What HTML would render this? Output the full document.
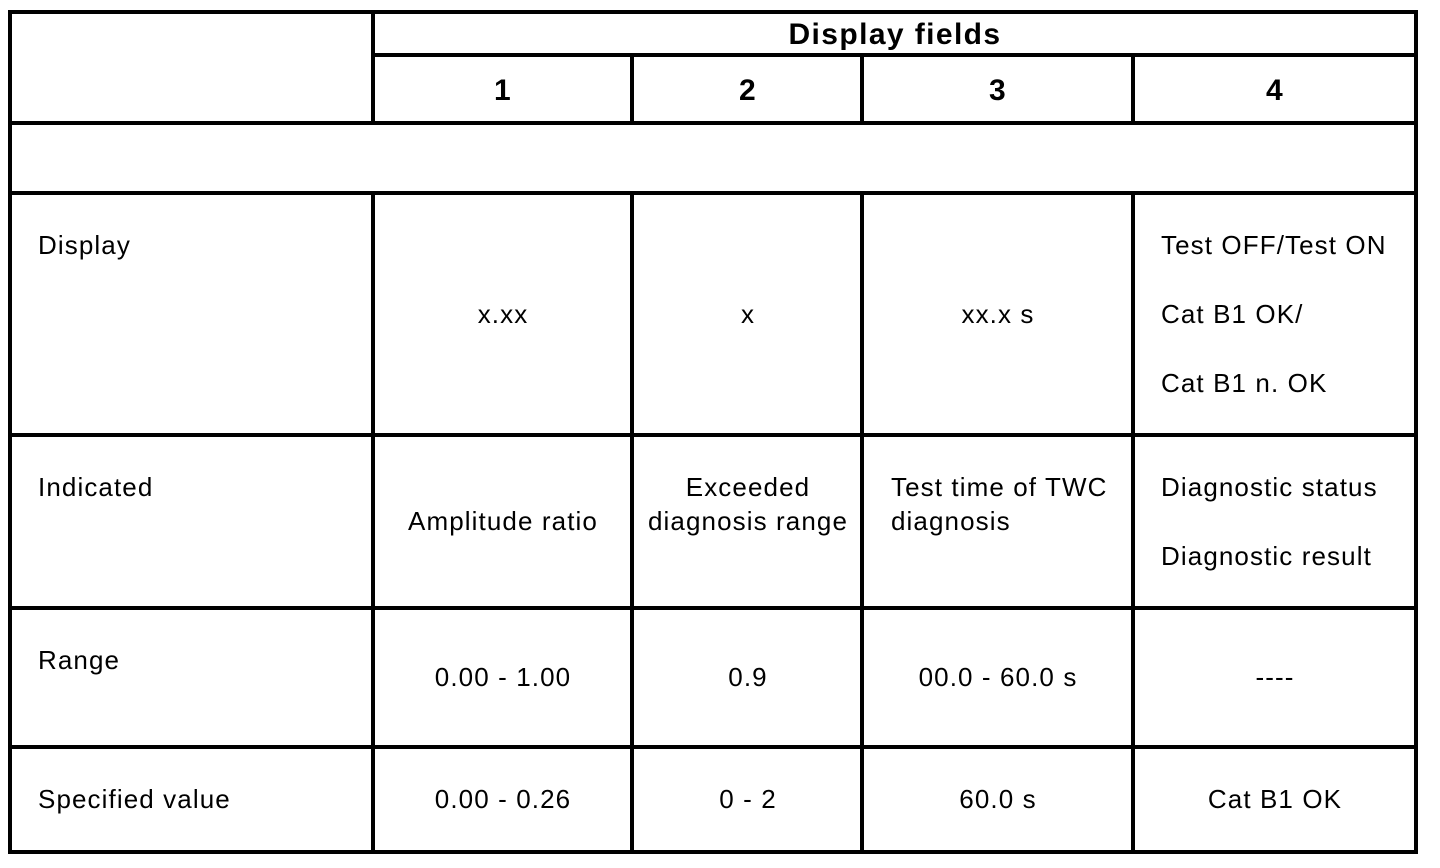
<!DOCTYPE html>
<html><head><style>body{margin:0;background:#fff}svg{display:block}</style></head><body>
<svg width="1440" height="868" xmlns="http://www.w3.org/2000/svg" font-family="Liberation Sans, Arial, sans-serif" font-size="26" letter-spacing="1.1" fill="#000">
<g stroke="#000" stroke-width="4" fill="none">
<rect x="10" y="12" width="1406" height="840"/>
<line x1="373" y1="12" x2="373" y2="123"/>
<line x1="373" y1="55" x2="1416" y2="55"/>
<line x1="632" y1="55" x2="632" y2="123"/>
<line x1="862" y1="55" x2="862" y2="123"/>
<line x1="1133" y1="55" x2="1133" y2="123"/>
<line x1="10" y1="123" x2="1416" y2="123"/>
<line x1="10" y1="193" x2="1416" y2="193"/>
<line x1="10" y1="435" x2="1416" y2="435"/>
<line x1="10" y1="608" x2="1416" y2="608"/>
<line x1="10" y1="747" x2="1416" y2="747"/>
<line x1="373" y1="193" x2="373" y2="852"/>
<line x1="632" y1="193" x2="632" y2="852"/>
<line x1="862" y1="193" x2="862" y2="852"/>
<line x1="1133" y1="193" x2="1133" y2="852"/>
</g>
<g font-weight="bold" font-size="30" letter-spacing="1.4" text-anchor="middle">
<text x="895" y="44">Display fields</text>
<text x="503" y="100">1</text>
<text x="748" y="100">2</text>
<text x="998" y="100">3</text>
<text x="1275" y="100">4</text>
</g>
<text x="38" y="254">Display</text>
<text x="38" y="496">Indicated</text>
<text x="38" y="669">Range</text>
<text x="38" y="808">Specified value</text>
<g text-anchor="middle">
<text x="503" y="323">x.xx</text>
<text x="748" y="323">x</text>
<text x="998" y="323">xx.x s</text>
<text x="503" y="530">Amplitude ratio</text>
<text x="748" y="496">Exceeded</text>
<text x="748" y="530">diagnosis range</text>
<text x="503" y="686">0.00 - 1.00</text>
<text x="748" y="686">0.9</text>
<text x="998" y="686">00.0 - 60.0 s</text>
<text x="1275" y="686">----</text>
<text x="503" y="808">0.00 - 0.26</text>
<text x="748" y="808">0 - 2</text>
<text x="998" y="808">60.0 s</text>
<text x="1275" y="808">Cat B1 OK</text>
</g>
<text x="891" y="496">Test time of TWC</text>
<text x="891" y="530">diagnosis</text>
<text x="1161" y="254">Test OFF/Test ON</text>
<text x="1161" y="323">Cat B1 OK/</text>
<text x="1161" y="392">Cat B1 n. OK</text>
<text x="1161" y="496">Diagnostic status</text>
<text x="1161" y="565">Diagnostic result</text>
</svg>
</body></html>
